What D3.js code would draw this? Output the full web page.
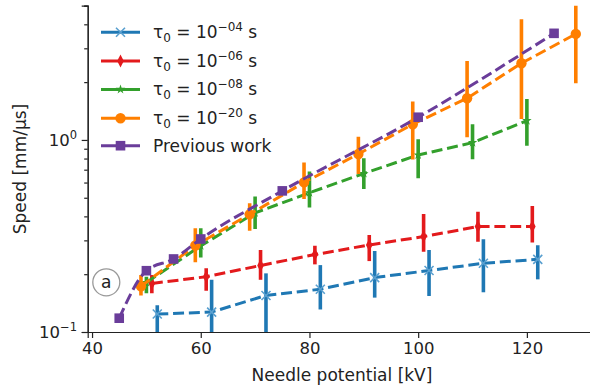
<!DOCTYPE html>
<html>
<head>
<meta charset="utf-8">
<script src="https://cdn.jsdelivr.net/npm/d3@7"></script>
<style>
body { margin: 0; background: #fff; }
svg { font-family: "DejaVu Sans", sans-serif; }
</style>
</head>
<body>
<svg width="590" height="389"></svg>
<script>
// tau0 = 1e-4
var blueX = [52, 62, 72, 82, 92, 102, 112, 122];
var blueY = [0.124, 0.127, 0.155, 0.167, 0.192, 0.209, 0.228, 0.239];
var blueLo = [0.085, 0.08, 0.085, 0.131, 0.151, 0.154, 0.161, 0.188];
var blueHi = [0.138, 0.187, 0.202, 0.223, 0.264, 0.267, 0.304, 0.283];

// tau0 = 1e-6
var redX = [51, 61, 71, 81, 91, 101, 111, 121];
var redY = [0.179, 0.194, 0.222, 0.253, 0.284, 0.314, 0.354, 0.354];
var redLo = [0.159, 0.164, 0.187, 0.225, 0.234, 0.262, 0.295, 0.292];
var redHi = [0.198, 0.215, 0.267, 0.281, 0.320, 0.412, 0.423, 0.453];

// tau0 = 1e-8
var greenX = [50, 60, 70, 80, 90, 100, 110, 120];
var greenY = [0.181, 0.281, 0.417, 0.531, 0.669, 0.835, 0.968, 1.26];
var greenLo = [0.159, 0.244, 0.344, 0.445, 0.556, 0.632, 0.793, 0.934];
var greenHi = [0.194, 0.347, 0.507, 0.684, 0.803, 1.008, 1.207, 1.635];

// tau0 = 1e-20
var orangeX = [49, 59, 69, 79, 89, 99, 109, 119, 129];
var orangeY = [0.173, 0.282, 0.410, 0.601, 0.845, 1.207, 1.649, 2.509, 3.565];
var orangeLo = [0.155, 0.231, 0.337, 0.493, 0.665, 0.791, 1.033, 1.286, 1.974];
var orangeHi = [0.198, 0.347, 0.468, 0.764, 1.040, 1.586, 2.579, 4.253, 5.5];

// previous work
var prevX = [45, 50, 55, 60, 75, 100, 125];
var prevY = [0.118, 0.2085, 0.240, 0.305, 0.543, 1.313, 3.59];

var legendLabels = ['\u221204', '\u221206', '\u221208', '\u221220'];

var svg = d3.select('svg');
var plotL = 87.7, plotR = 597, plotT = 5.7, plotB = 332;

var x = d3.scaleLinear().domain([39.2, 132.9]).range([plotL, plotR]);
var y = d3.scaleLog().domain([0.1, 5]).range([plotB, plotT]);

svg.append('defs').append('clipPath').attr('id', 'plot')
  .append('rect')
  .attr('x', plotL).attr('y', plotT)
  .attr('width', plotR - plotL).attr('height', plotB - plotT);

var plot = svg.append('g').attr('clip-path', 'url(#plot)');

var series = [
  { xs: blueX, ys: blueY, lo: blueLo, hi: blueHi, color: '#1f78b4', marker: 'x' },
  { xs: redX, ys: redY, lo: redLo, hi: redHi, color: '#e31a1c', marker: 'diamond' },
  { xs: greenX, ys: greenY, lo: greenLo, hi: greenHi, color: '#33a02c', marker: 'star' },
  { xs: orangeX, ys: orangeY, lo: orangeLo, hi: orangeHi, color: '#ff7f00', marker: 'circle' },
  { xs: prevX, ys: prevY, lo: null, hi: null, color: '#6a3d9a', marker: 'square' }
];

var drawMarker = function(g, kind, color) {
  if (kind === 'x') {
    g.append('path').attr('d', 'M-4.5,-4.5L4.5,4.5M-4.5,4.5L4.5,-4.5')
      .attr('stroke', '#5aa0d0').attr('stroke-width', 1.6).attr('fill', 'none');
  } else if (kind === 'diamond') {
    g.append('path').attr('d', 'M0,-6.5L3.3,0L0,6.5L-3.3,0Z').attr('fill', color);
  } else if (kind === 'star') {
    g.append('path').attr('d', d3.symbol().type(d3.symbolStar).size(28)()).attr('fill', color);
  } else if (kind === 'circle') {
    g.append('circle').attr('r', 5.2).attr('fill', color);
  } else {
    g.append('rect').attr('x', -4.8).attr('y', -4.8).attr('width', 9.6).attr('height', 9.6)
      .attr('fill', color);
  }
};

series.forEach(function(s) {
  var pts = s.xs.map(function(v, i) { return { x: v, y: s.ys[i], lo: s.lo ? s.lo[i] : null, hi: s.hi ? s.hi[i] : null }; });

  // Error bars
  if (s.lo) {
    plot.selectAll(null)
      .data(pts)
      .enter()
      .append('line')
      .attr('x1', d => x(d.x)).attr('x2', d => x(d.x))
      .attr('y1', d => y(d.lo)).attr('y2', d => y(d.hi))
      .attr('stroke', s.color)
      .attr('stroke-width', 3.6);
  }

  var line = d3.line()
    .x(d => x(d.x))
    .y(d => y(d.y))
    .curve(s.lo ? d3.curveLinear : d3.curveMonotoneX);

  plot.append('path')
    .datum(pts)
    .attr('d', line)
    .attr('fill', 'none')
    .attr('stroke', s.color)
    .attr('stroke-width', 3)
    .attr('stroke-dasharray', '11,4.8');

  plot.selectAll(null)
    .data(pts)
    .enter()
    .append('g')
    .attr('transform', d => 'translate(' + x(d.x) + ',' + y(d.y) + ')')
    .each(function() { drawMarker(d3.select(this), s.marker, s.color); });
});

// Axes
var ax = svg.append('g').attr('font-size', 16.5).attr('fill', '#222');

var xAxis = ax.append('g')
  .attr('transform', 'translate(0,' + plotB + ')')
  .call(d3.axisBottom(x).tickValues([40, 60, 80, 100, 120]).tickSize(6).tickPadding(4));

var yMinor = ax.append('g')
  .attr('transform', 'translate(' + plotL + ',0)')
  .call(d3.axisLeft(y).tickValues([0.2, 0.3, 0.4, 0.5, 0.6, 0.7, 0.8, 0.9, 2, 3, 4, 5]).tickSize(3.5).tickFormat(''));

var yAxis = ax.append('g')
  .attr('transform', 'translate(' + plotL + ',0)')
  .call(d3.axisLeft(y).tickValues([0.1, 1]).tickSize(6).tickFormat(''));

[xAxis, yMinor, yAxis].forEach(function(g) {
  g.selectAll('path,line').attr('stroke', '#222').attr('stroke-width', 1.2);
  g.selectAll('text').attr('font-size', 16.5).attr('font-family', 'DejaVu Sans').attr('fill', '#222');
});

var yLabels = ax.selectAll(null)
  .data([{ v: 0.1, e: '\u22121' }, { v: 1, e: '0' }])
  .enter()
  .append('text')
  .attr('x', 77).attr('y', d => y(d.v) + 6)
  .attr('text-anchor', 'end')
  .attr('fill', '#222');
yLabels.append('tspan').text('10');
yLabels.append('tspan').attr('dy', -7).attr('font-size', 11.5).text(d => d.e);

svg.append('text')
  .attr('x', 342).attr('y', 381)
  .attr('text-anchor', 'middle')
  .attr('font-size', 17).attr('fill', '#222')
  .text('Needle potential [kV]');

svg.append('text')
  .attr('transform', 'translate(26,169) rotate(-90)')
  .attr('text-anchor', 'middle')
  .attr('font-size', 17).attr('fill', '#222')
  .text('Speed [mm/\u00b5s]');

// Legend
var legendY = [32.3, 61, 89.4, 118.2, 145.7];
series.forEach(function(s, i) {
  var g = svg.append('g').attr('transform', 'translate(0,' + legendY[i] + ')');
  g.append('line').attr('x1', 101).attr('x2', 140)
    .attr('stroke', s.color).attr('stroke-width', 3);
  var m = g.append('g').attr('transform', 'translate(120.5,0)');
  drawMarker(m, s.marker, s.color);
  var t = g.append('text').attr('x', 153).attr('y', 6).attr('font-size', 17).attr('fill', '#222');
  if (i < 4) {
    t.append('tspan').text('\u03c4');
    t.append('tspan').attr('dy', 4).attr('font-size', 12).text('0');
    t.append('tspan').attr('dy', -4).text(' = 10');
    t.append('tspan').attr('dy', -7).attr('font-size', 12).text(legendLabels[i]);
    t.append('tspan').attr('dy', 7).text(' s');
  } else {
    t.text('Previous work');
  }
});

// Panel tag
svg.append('circle').attr('cx', 106.3).attr('cy', 282.3).attr('r', 13.5)
  .attr('fill', '#fff').attr('stroke', '#999').attr('stroke-width', 1.3);
svg.append('text').attr('x', 106.3).attr('y', 288.3)
  .attr('text-anchor', 'middle').attr('font-size', 17).attr('fill', '#222').text('a');
</script>
</body>
</html>
